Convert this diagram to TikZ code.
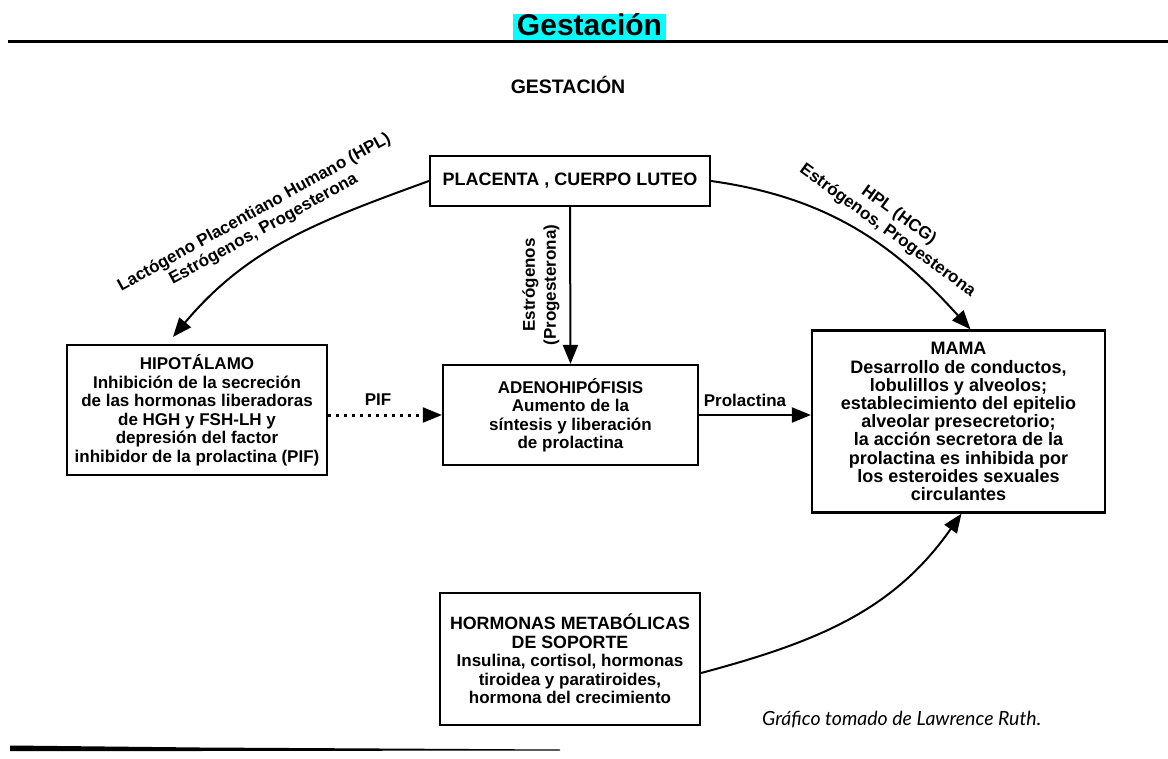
\documentclass[tikz,border=0pt]{standalone}
\usepackage{fontspec}
\setmainfont{Liberation Sans}
\newfontfamily\footfont{Lato}
\usetikzlibrary{arrows.meta,calc}
\definecolor{titlecyan}{RGB}{0,255,255}
\begin{document}
\begin{tikzpicture}[x=1pt,y=1pt,
  box/.style={draw, line width=2.2pt, align=center, inner sep=0pt, font=\fontsize{17}{18.5}\selectfont\bfseries},
  lbl/.style={align=center, inner sep=0pt, font=\fontsize{17}{19}\selectfont\bfseries},
  conn/.style={line width=2pt, -{Triangle[length=19pt,width=15pt]}},
]
\useasboundingbox (0,0) rectangle (1168,-759);
\fill[white] (0,0) rectangle (1168,-759);

% title bar
\begin{scope}
\clip (513,-14) rectangle (666,-40);
\fill[titlecyan] (513,-14) rectangle (666,-40);
\node[anchor=base, inner sep=0pt, font=\fontsize{30}{30}\selectfont\bfseries] (title) at (589.5,-36) {Gestación};
\end{scope}
\draw[line width=3pt] (8,-42) -- (1168,-42);

\node[inner sep=0pt, font=\fontsize{19.5}{19.5}\selectfont\bfseries] (gest) at (568,-85) {GESTACIÓN};

% boxes
\node[box, minimum width=280pt, minimum height=50pt, font=\fontsize{18}{20}\selectfont\bfseries] (plac) at (570,-181) {PLACENTA , CUERPO LUTEO};
\node[box, minimum width=260pt, minimum height=130pt] (hip) at (197,-410)
  {HIPOTÁLAMO\\Inhibición de la secreción\\de las hormonas liberadoras\\de HGH y FSH-LH y\\depresión del factor\\inhibidor de la prolactina (PIF)};
\node[box, minimum width=255pt, minimum height=100pt] (adeno) at (570.5,-415)
  {ADENOHIPÓFISIS\\Aumento de la\\síntesis y liberación\\de prolactina};
\node[box, minimum width=293pt, minimum height=182pt, font=\fontsize{18}{18.2}\selectfont\bfseries] (mama) at (958.5,-421.5)
  {MAMA\\Desarrollo de conductos,\\lobulillos y alveolos;\\establecimiento del epitelio\\alveolar presecretorio;\\la acción secretora de la\\prolactina es inhibida por\\los esteroides sexuales\\circulantes};
\node[box, minimum width=260pt, minimum height=132pt] (horm) at (570,-659)
  {{\fontsize{17.8}{19}\selectfont HORMONAS METABÓLICAS}\\{\fontsize{17.8}{19}\selectfont DE SOPORTE}\\Insulina, cortisol, hormonas\\tiroidea y paratiroides,\\hormona del crecimiento};

% connectors
\draw[conn] (plac.west) to[out=200,in=50] ([xshift=-24pt,yshift=7pt]hip.north);
\draw[conn] (plac.east) to[out=-8,in=132] ([xshift=12pt]mama.north);
\draw[conn] (plac.south) -- (adeno.north);
\draw[line width=3pt, dash pattern=on 3pt off 5pt] (hip.east |- adeno.west) -- ([xshift=-16pt]adeno.west);
\draw[conn] ([xshift=-19pt]adeno.west) -- (adeno.west);
\draw[conn] (adeno.east) -- (mama.west |- adeno.east);
\draw[conn] ([yshift=-14pt]horm.east) to[out=15,in=-125] ([xshift=3pt]mama.south);

% connector labels
\node[lbl, rotate=29] (llab) at (259,-221) {Lactógeno Placentiano Humano (HPL)\\Estrógenos, Progesterona};
\node[lbl, rotate=-36] (rlab) at (893,-223) {HPL (HCG)\\Estrógenos, Progesterona};
\node[lbl, rotate=90, font=\fontsize{17}{21}\selectfont\bfseries] (vlab) at (541,-285) {Estrógenos\\(Progesterona)};
\node[lbl] (piflab) at (378,-400) {PIF};
\node[lbl] (prollab) at (745,-400) {Prolactina};

% footer
\node[anchor=west, inner sep=0pt, font=\footfont\itshape\fontsize{19.5}{19.5}\selectfont] (credit) at (762,-720) {Gráfico tomado de Lawrence Ruth.};
\fill (10,-745.5) -- (200,-747.5) -- (560,-749.5) -- (560,-750.5) -- (200,-751) -- (10,-751) -- cycle;
\end{tikzpicture}
\end{document}
